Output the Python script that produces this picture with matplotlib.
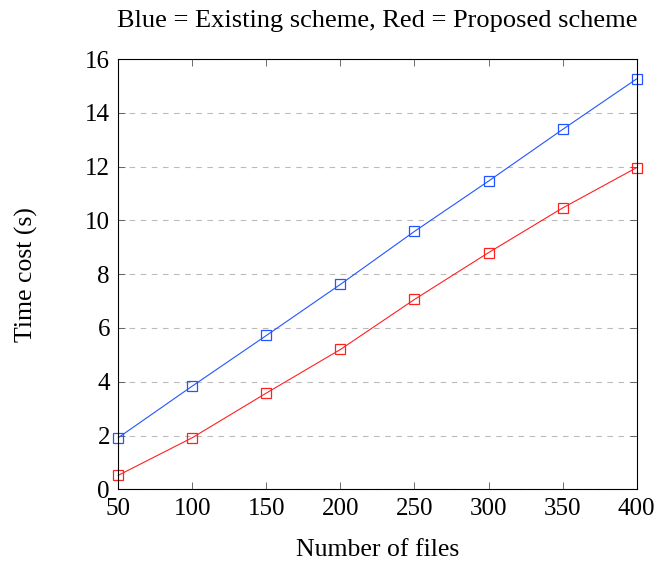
import matplotlib
matplotlib.use("Agg")
import matplotlib.pyplot as plt

# Datos
num_archivos = [50, 100, 150, 200, 250, 300, 350, 400]
esquema_existente = [1.92, 3.84, 5.72, 7.62, 9.59, 11.46, 13.38, 15.26]
esquema_propuesto = [0.52, 1.92, 3.58, 5.20, 7.06, 8.80, 10.46, 11.96]
y_ticks = [0, 2, 4, 6, 8, 10, 12, 14, 16]

plt.rcParams["font.family"] = ["Liberation Serif", "DejaVu Serif"]

fig = plt.figure(figsize=(6.59, 5.61), dpi=100)
ax = fig.add_axes([0.1795, 0.1278, 0.7865, 0.767])

ax.plot(num_archivos, esquema_existente, color="#2255ff", linewidth=0.8,
        marker="s", markersize=7, markerfacecolor="none", markeredgewidth=0.9, clip_on=False)
ax.plot(num_archivos, esquema_propuesto, color="#ff2020", linewidth=0.8,
        marker="s", markersize=7, markerfacecolor="none", markeredgewidth=0.9, clip_on=False)

ax.set_xlim(50, 400)
ax.set_ylim(0, 16)
ax.set_xticks(num_archivos)
ax.set_yticks(y_ticks)
ax.yaxis.grid(True, linestyle=(0, (5, 5)), color="#bbbbbb", linewidth=0.8)
ax.set_axisbelow(True)

ax.tick_params(direction="in", top=True, right=True, length=5, width=0.6,
               color="#555555", labelsize=18)
ax.tick_params(axis="x", pad=6)
ax.tick_params(axis="y", pad=6)
for s in ax.spines.values():
    s.set_linewidth(0.8)

ax.set_xlabel("Number of files", fontsize=18.5, labelpad=14)
ax.set_ylabel("Time cost (s)", fontsize=18.5, labelpad=34)
ax.set_title("Blue = Existing scheme, Red = Proposed scheme", fontsize=19, pad=23)

fig.savefig("out.png", dpi=100)
